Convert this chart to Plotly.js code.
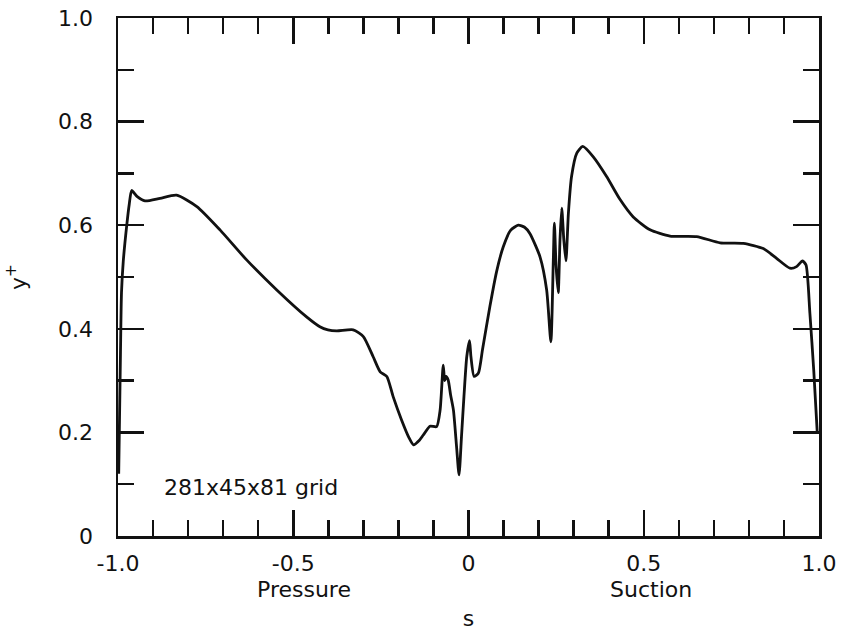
<!DOCTYPE html>
<html>
<head>
<meta charset="utf-8">
<script src="https://cdn.plot.ly/plotly-3.0.1.min.js"></script>
<style>html,body{margin:0;padding:0;background:#fff;}#chart{width:842px;height:635px;}</style>
</head>
<body>
<div id="chart"></div>
<script>
// arc length coordinate s (pressure side negative, suction side positive)
const sValues = [
  -0.998, -0.993, -0.990, -0.985, -0.975, -0.968, -0.961, -0.945, -0.923, -0.880, -0.833,
  -0.775, -0.709, -0.633, -0.547, -0.462, -0.424, -0.401, -0.376, -0.329, -0.300,
  -0.272, -0.252, -0.233, -0.215, -0.191, -0.170, -0.157, -0.140, -0.129, -0.110, -0.091,
  -0.081, -0.072, -0.068, -0.064, -0.058, -0.051, -0.043, -0.034, -0.027, -0.020,
  -0.013, -0.005, 0.003, 0.007, 0.016, 0.028, 0.040, 0.061, 0.080, 0.099, 0.120,
  0.142, 0.160, 0.175, 0.204, 0.223, 0.235, 0.242, 0.245, 0.250, 0.256, 0.261,
  0.266, 0.272, 0.278, 0.285, 0.294, 0.309, 0.326, 0.356, 0.394, 0.432, 0.470,
  0.518, 0.575, 0.651, 0.718, 0.784, 0.841, 0.879, 0.917, 0.936, 0.953, 0.963,
  0.974, 0.985, 0.995
];
// y+ values
const yPlus = [
  0.12, 0.35, 0.47, 0.53, 0.60, 0.640, 0.667, 0.655, 0.647, 0.652, 0.658,
  0.636, 0.591, 0.533, 0.475, 0.423, 0.404, 0.398, 0.396, 0.398, 0.385,
  0.346, 0.317, 0.308, 0.269, 0.224, 0.190, 0.176, 0.185, 0.195, 0.212, 0.211,
  0.243, 0.330, 0.300, 0.308, 0.301, 0.272, 0.243, 0.172, 0.118, 0.192,
  0.269, 0.346, 0.377, 0.346, 0.308, 0.314, 0.360, 0.443, 0.510, 0.558, 0.590,
  0.600, 0.596, 0.584, 0.539, 0.475, 0.375, 0.533, 0.604, 0.520, 0.470, 0.571,
  0.633, 0.571, 0.531, 0.623, 0.694, 0.739, 0.752, 0.732, 0.694, 0.650, 0.616,
  0.591, 0.579, 0.578, 0.566, 0.565, 0.555, 0.536, 0.517, 0.520, 0.531, 0.523,
  0.430, 0.320, 0.200
];
const xTickVals = [-1.0, -0.5, 0, 0.5, 1.0];
const xTickText = ["-1.0", "-0.5", "0", "0.5", "1.0"];
const yTickVals = [0, 0.2, 0.4, 0.6, 0.8, 1.0];
const yTickText = ["0", "0.2", "0.4", "0.6", "0.8", "1.0"];
const sideLabels = ["Pressure", "Suction"];
const sideLabelX = [-0.47, 0.52];
const gridNote = "281x45x81 grid";

const font = {family: "DejaVu Sans, Liberation Sans, Arial, sans-serif", size: 22, color: "#111"};

const trace = {
  x: sValues, y: yPlus, type: "scatter", mode: "lines",
  line: {color: "#111", width: 2.8, shape: "spline", smoothing: 0.6},
  hoverinfo: "skip", showlegend: false
};

const axisCommon = {
  showgrid: false, zeroline: false, showline: true, linecolor: "#111", linewidth: 2.5,
  mirror: "ticks", ticks: "inside", tickcolor: "#111", tickwidth: 2.5, ticklen: 26,
  tickfont: font, tickmode: "array"
};

const layout = {
  width: 842, height: 635,
  margin: {l: 118, r: 23, t: 18, b: 99},
  paper_bgcolor: "#fff", plot_bgcolor: "#fff",
  font: font,
  xaxis: Object.assign({}, axisCommon, {
    range: [-1, 1], tickvals: xTickVals, ticktext: xTickText,
    ticklabelstandoff: 6,
    minor: {tickmode: "linear", tick0: 0, dtick: 0.1, ticks: "inside", ticklen: 16, tickwidth: 2.5, tickcolor: "#111"},
    title: {text: "s", font: font, standoff: 36}
  }),
  yaxis: Object.assign({}, axisCommon, {
    range: [0, 1], tickvals: yTickVals, ticktext: yTickText,
    ticklabelstandoff: 18,
    minor: {tickmode: "linear", tick0: 0, dtick: 0.1, ticks: "inside", ticklen: 16, tickwidth: 2.5, tickcolor: "#111"},
    title: {text: "y<sup>+</sup>", font: font, standoff: 26}
  }),
  annotations: [
    {text: sideLabels[0], x: sideLabelX[0], xref: "x", y: -0.103, yref: "paper", showarrow: false, font: font, xanchor: "center", yanchor: "middle"},
    {text: sideLabels[1], x: sideLabelX[1], xref: "x", y: -0.103, yref: "paper", showarrow: false, font: font, xanchor: "center", yanchor: "middle"},
    {text: gridNote, x: -0.874, xref: "x", y: 0.093, yref: "y", showarrow: false, font: font, xanchor: "left", yanchor: "middle"}
  ]
};

Plotly.newPlot("chart", [trace], layout, {staticPlot: true, displayModeBar: false});
</script>
</body>
</html>
